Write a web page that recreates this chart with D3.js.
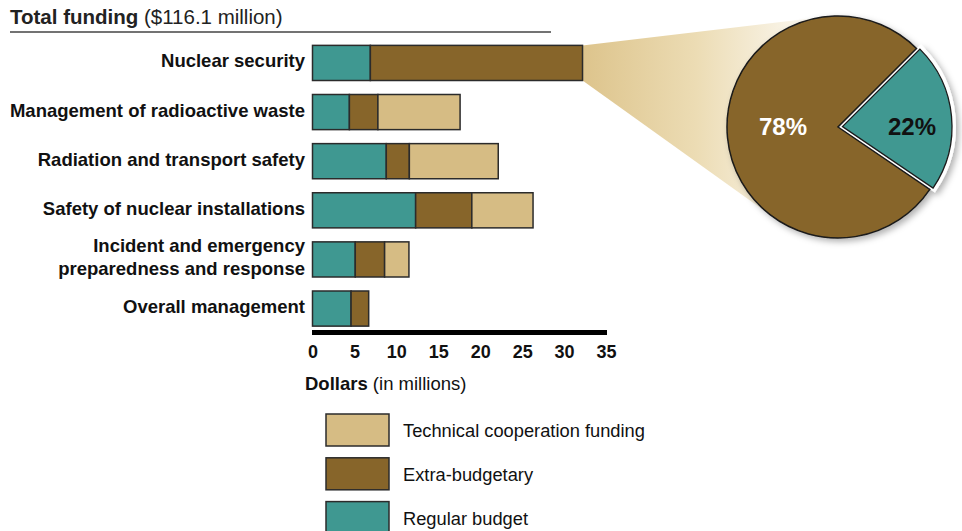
<!DOCTYPE html>
<html><head><meta charset="utf-8">
<script src="https://cdn.jsdelivr.net/npm/d3@7"></script>
<style>
body{margin:0;background:#fff;}
svg{font-family:"Liberation Sans",Arial,Helvetica,sans-serif;}
</style></head>
<body><svg id="c" width="962" height="531"></svg>
<script>
const categories = ["Nuclear security","Management of radioactive waste","Radiation and transport safety","Safety of nuclear installations","Incident and emergency\npreparedness and response","Overall management"];
const regularBudget = [6.9, 4.4, 8.8, 12.3, 5.1, 4.6];
const extraBudgetary = [25.3, 3.4, 2.75, 6.7, 3.5, 2.1];
const technicalCooperation = [0, 9.8, 10.6, 7.3, 2.9, 0];
const xTicks = [0,5,10,15,20,25,30,35];
const pieLabels = ["Regular budget","Extra-budgetary"];
const piePercent = [22, 78];
const seriesNames = ["Regular budget","Extra-budgetary","Technical cooperation funding"];
const totalLabel = "$116.1 million";

const colors = {"Regular budget":"#3f9891","Extra-budgetary":"#87652a","Technical cooperation funding":"#d6bc84"};

const svg = d3.select("#c");
const defs = svg.append("defs");

// Title
const t = svg.append("text").attr("x",10).attr("y",24).attr("font-size",20.5).attr("fill","#222");
t.append("tspan").attr("font-weight","bold").text("Total funding");
t.append("tspan").text(" (" + totalLabel + ")");
svg.append("line").attr("x1",10).attr("x2",551).attr("y1",32).attr("y2",32).attr("stroke","#444").attr("stroke-width",1.5);

const x = d3.scaleLinear().domain([0,35]).range([312.5,606]);
const y = d3.scaleBand().domain(categories).range([38.5,333]).paddingInner(0.285).paddingOuter(0.14);

const rows = categories.map((c,i)=>({cat:c,"Regular budget":regularBudget[i],"Extra-budgetary":extraBudgetary[i],"Technical cooperation funding":technicalCooperation[i]}));
const stack = d3.stack().keys(seriesNames)(rows);

// Gradient wedge to pie
const pcx = 838, pcy = 127, pr = 111;
const first = rows[0];
const barEnd = x(first["Regular budget"]+first["Extra-budgetary"]);
function tangent(px,py,sign){
  const dx = pcx-px, dy = pcy-py, d = Math.hypot(dx,dy);
  const a = Math.atan2(dy,dx), b = Math.asin(pr/d);
  const ang = a + sign*b, L = Math.sqrt(d*d-pr*pr);
  return [px+L*Math.cos(ang), py+L*Math.sin(ang)];
}
const y0 = y(categories[0]), y1 = y0 + y.bandwidth();
const tTop = tangent(barEnd,y0,-1), tBot = tangent(barEnd,y1,1);
const grad = defs.append("linearGradient").attr("id","wg").attr("gradientUnits","userSpaceOnUse")
  .attr("x1",barEnd).attr("x2",tTop[0]+10).attr("y1",0).attr("y2",0);
grad.append("stop").attr("offset","0").attr("stop-color","#ddc48c");
grad.append("stop").attr("offset","0.45").attr("stop-color","#ecdcb4");
grad.append("stop").attr("offset","1").attr("stop-color","#ffffff");
svg.append("path").attr("d",`M${barEnd},${y0}L${tTop[0]},${tTop[1]}L${pcx},${pcy}L${tBot[0]},${tBot[1]}L${barEnd},${y1}Z`).attr("fill","url(#wg)");

// Bars
svg.append("g").selectAll("g").data(stack).join("g").attr("fill",d=>colors[d.key])
  .selectAll("rect").data(d=>d.filter(s=>s[1]-s[0]>0)).join("rect")
  .attr("x",d=>x(d[0])).attr("width",d=>x(d[1])-x(d[0]))
  .attr("y",d=>y(d.data.cat)).attr("height",y.bandwidth())
  .attr("stroke","#2b2b2b").attr("stroke-width",1.5);

// Category labels
svg.append("g").selectAll("text").data(categories).join("text")
  .attr("x",305).attr("text-anchor","end").attr("font-weight","bold").attr("font-size",18.5).attr("fill","#111")
  .each(function(c){
    const lines = c.split("\n"); const cy = y(c)+y.bandwidth()/2;
    const sel = d3.select(this);
    lines.forEach((l,i)=>{
      sel.append("tspan").attr("x",305).attr("y",cy + 4.5 + (i-(lines.length-1)/2)*23).text(l);
    });
  });

// Axis
const axisY = 332.5;
svg.append("line").attr("x1",312).attr("x2",607).attr("y1",axisY).attr("y2",axisY).attr("stroke","#000").attr("stroke-width",5);
const ax = svg.append("g").attr("transform",`translate(0,${axisY+7})`)
  .call(d3.axisBottom(x).tickValues(xTicks).tickSize(0).tickPadding(6).tickFormat(d3.format("d")));
ax.select(".domain").remove();
ax.selectAll("text").attr("font-size",18).attr("font-weight","bold").attr("fill","#111").attr("font-family","Liberation Sans,Arial,sans-serif");

const xl = svg.append("text").attr("x",305).attr("y",390).attr("font-size",18.5).attr("fill","#111");
xl.append("tspan").attr("font-weight","bold").text("Dollars");
xl.append("tspan").text(" (in millions)");

// Legend
const legendOrder = ["Technical cooperation funding","Extra-budgetary","Regular budget"];
const lg = svg.append("g").selectAll("g").data(legendOrder).join("g").attr("transform",(d,i)=>`translate(326,${414+i*43.8})`);
lg.append("rect").attr("width",63).attr("height",32).attr("fill",d=>colors[d]).attr("stroke","#2b2b2b").attr("stroke-width",1.5);
lg.append("text").attr("x",77).attr("y",23).attr("font-size",18.3).attr("fill","#111").text(d=>d);

// Pie
const filt = defs.append("filter").attr("id","sh").attr("x","-20%").attr("y","-20%").attr("width","150%").attr("height","150%");
filt.append("feDropShadow").attr("dx",3).attr("dy",3).attr("stdDeviation",3).attr("flood-color","#000").attr("flood-opacity",0.3);

const pie = d3.pie().sort(null).value(d=>d.v).startAngle(45*Math.PI/180).endAngle(405*Math.PI/180);
const arcs = pie(piePercent.map((v,i)=>({name:pieLabels[i],v})));
const arc = d3.arc().innerRadius(0).outerRadius(pr);
const pg = svg.append("g").attr("transform",`translate(${pcx},${pcy})`).attr("filter","url(#sh)");
const off = d=>{const m=(d.startAngle+d.endAngle)/2; return `translate(${4.5*Math.sin(m)},${-4.5*Math.cos(m)})`;};
pg.selectAll("path.m").data(arcs).join("path").attr("class","m")
  .attr("transform",d=>d.data.name==="Regular budget"?off(d):null)
  .attr("d",arc).attr("fill",d=>colors[d.data.name])
  .attr("stroke",d=>d.data.name==="Regular budget"?"#fff":"#1a1a1a").attr("stroke-width",d=>d.data.name==="Regular budget"?5:1.5);
pg.selectAll("path.o").data(arcs.filter(d=>d.data.name==="Regular budget")).join("path").attr("class","o")
  .attr("transform",off)
  .attr("d",d3.arc().innerRadius(0).outerRadius(pr-1.5)).attr("fill",d=>colors[d.data.name]).attr("stroke","#1a1a1a").attr("stroke-width",1.3);

const labelPos = {"Regular budget":[912,126],"Extra-budgetary":[783,126]};
svg.append("g").selectAll("text").data(arcs).join("text")
  .attr("x",d=>labelPos[d.data.name][0]).attr("y",d=>labelPos[d.data.name][1]+8.5)
  .attr("text-anchor","middle").attr("font-weight","bold").attr("font-size",24)
  .attr("fill",d=>d.data.name==="Regular budget"?"#111":"#fff").text(d=>d.data.v+"%");
</script></body></html>
